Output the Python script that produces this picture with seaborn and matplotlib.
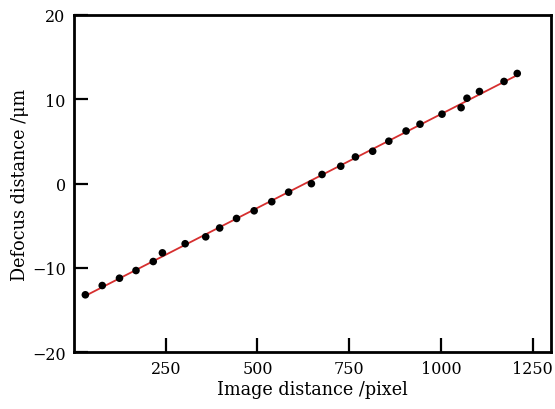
import numpy as np
import pandas as pd
import matplotlib
matplotlib.use("Agg")
import matplotlib.pyplot as plt
import seaborn as sns

image_distance = [31, 77, 124, 169, 216, 241, 303, 359, 397, 443, 491, 539, 585,
                  647, 676, 727, 767, 814, 858, 905, 943, 1003, 1055, 1071, 1105,
                  1172, 1208]
defocus_distance = [-13.21, -12.11, -11.24, -10.33, -9.26, -8.23, -7.15, -6.33,
                    -5.28, -4.15, -3.24, -2.16, -1.03, -0.02, 1.07, 2.05, 3.15,
                    3.83, 5.02, 6.23, 7.04, 8.23, 9.00, 10.12, 10.92, 12.11, 13.06]
x_ticks = [250, 500, 750, 1000, 1250]
y_ticks = [-20, -10, 0, 10, 20]

df = pd.DataFrame({"x": image_distance, "y": defocus_distance})

sns.set_style("ticks")
plt.rcParams['font.family'] = ['DejaVu Serif', 'DejaVu Sans']
plt.rcParams['mathtext.fontset'] = 'dejavuserif'
for k in ['text.color', 'axes.labelcolor', 'xtick.color', 'ytick.color', 'axes.edgecolor']:
    plt.rcParams[k] = 'black'

fig = plt.figure(figsize=(5.55, 4.10), dpi=100)
ax = fig.add_axes([0.1333, 0.139, 0.8595, 0.822])

sns.regplot(data=df, x="x", y="y", ax=ax, ci=None,
            scatter_kws=dict(s=30, color="black", edgecolor="none", alpha=1, zorder=3),
            line_kws=dict(color="#d62f2f", lw=1.3, zorder=2))

ax.set_xlim(0, 1300)
ax.set_ylim(-20, 20)
ax.set_xticks(x_ticks)
ax.set_yticks(y_ticks)
ax.tick_params(direction="in", length=10, width=1.6, labelsize=11.5,
               colors="black", top=False, right=False, pad=6)
for sp in ax.spines.values():
    sp.set_linewidth(2)
    sp.set_color("black")
ax.set_xlabel("Image distance /pixel", fontsize=12.7, labelpad=2, color="black")
ax.set_ylabel("Defocus distance /μm", fontsize=12.7, labelpad=2, color="black")

fig.savefig("out.png", dpi=100)
